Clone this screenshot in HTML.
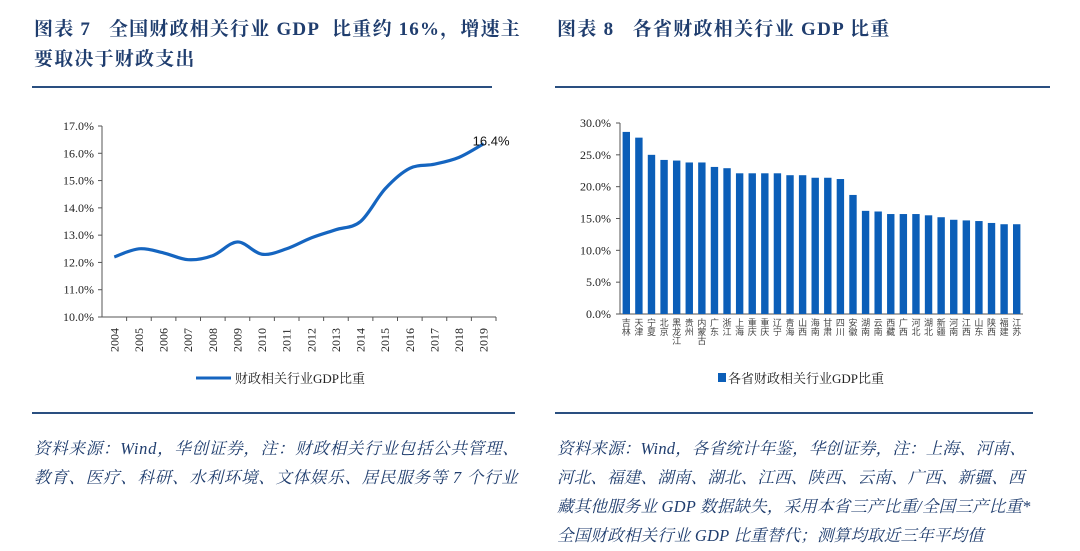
<!DOCTYPE html>
<html><head><meta charset="utf-8"><style>
body{margin:0;width:1080px;height:551px;background:#fff;overflow:hidden;position:relative;font-family:"Liberation Serif","Noto Serif CJK SC",serif}
.t{position:absolute;color:#1f3d6e;font-weight:bold;font-size:19px;letter-spacing:1px;white-space:nowrap}
.f{position:absolute;color:#1f3d6e;font-style:italic;font-size:16.5px;white-space:nowrap;letter-spacing:0.3px}
.hl{position:absolute;height:2px;background:#2a4f80}
svg{position:absolute;left:0;top:0}
</style></head><body>
<div class="t" style="left:34px;top:14px;letter-spacing:1.2px">图表 7&nbsp;&nbsp;&nbsp;全国财政相关行业 GDP&nbsp; 比重约 16%，增速主</div>
<div class="t" style="left:34px;top:44px;letter-spacing:1.2px">要取决于财政支出</div>
<div class="t" style="left:557px;top:14px;letter-spacing:1.3px">图表 8&nbsp;&nbsp;&nbsp;各省财政相关行业 GDP 比重</div>
<div class="hl" style="left:32px;top:86px;width:460px"></div>
<div class="hl" style="left:555px;top:86px;width:495px"></div>
<div class="hl" style="left:32px;top:412px;width:483px"></div>
<div class="hl" style="left:555px;top:412px;width:478px"></div>
<div class="f" style="left:34px;top:434px;line-height:29px;letter-spacing:0.75px">资料来源：Wind，华创证券，注：财政相关行业包括公共管理、<br>教育、医疗、科研、水利环境、文体娱乐、居民服务等 7 个行业</div>
<div class="f" style="left:557px;top:434px;line-height:29px;letter-spacing:0.2px">资料来源：Wind，各省统计年鉴，华创证券，注：上海、河南、<br>河北、福建、湖南、湖北、江西、陕西、云南、广西、新疆、西<br>藏其他服务业 GDP 数据缺失，采用本省三产比重/全国三产比重*<br>全国财政相关行业 GDP 比重替代；测算均取近三年平均值</div>
<svg id="c" width="1080" height="551"></svg>
<script>
const years=["2004","2005","2006","2007","2008","2009","2010","2011","2012","2013","2014","2015","2016","2017","2018","2019"];
const lineVals=[12.2,12.5,12.35,12.1,12.25,12.75,12.3,12.5,12.9,13.2,13.5,14.7,15.45,15.6,15.85,16.35];
const lineTicks=[10,11,12,13,14,15,16,17];
const provinces=["吉林","天津","宁夏","北京","黑龙江","贵州","内蒙古","广东","浙江","上海","重庆","重庆","辽宁","青海","山西","海南","甘肃","四川","安徽","湖南","云南","西藏","广西","河北","湖北","新疆","河南","江西","山东","陕西","福建","江苏"];
const barVals=[28.6,27.7,25.0,24.2,24.1,23.8,23.8,23.1,22.9,22.1,22.1,22.1,22.1,21.8,21.8,21.4,21.4,21.2,18.7,16.2,16.1,15.7,15.7,15.7,15.5,15.2,14.8,14.7,14.6,14.3,14.1,14.1];
const barTicks=[0,5,10,15,20,25,30];
const S=document.getElementById('c'),NS='http://www.w3.org/2000/svg';
function mk(t,a,txt){const e=document.createElementNS(NS,t);for(const k in a)e.setAttribute(k,a[k]);if(txt!=null)e.textContent=txt;S.appendChild(e);return e;}
const lx0=102,lx1=496,ly0=317,ly1=126;
const lxs=i=>lx0+12.3+i*((lx1-lx0)/years.length);
const lys=v=>ly0-(v-10)/7*(ly0-ly1);
let e=mk('line',{x1:lx0,y1:ly1,x2:lx0,y2:ly0,stroke:'#555'});

e=mk('line',{x1:lx0,y1:ly0,x2:lx1,y2:ly0,stroke:'#555'});

lineTicks.forEach(v=>{const y=lys(v);mk('line',{x1:lx0-4,y1:y,x2:lx0,y2:y,stroke:'#555'});
e=mk('text',{x:lx0-8,y:y+4,'text-anchor':'end','font-size':12,fill:'#222'},v.toFixed(1)+'%');
});
years.forEach((yr,i)=>{const x=lx0+(i+1)*((lx1-lx0)/years.length);mk('line',{x1:x,y1:ly0,x2:x,y2:ly0+4,stroke:'#555'});
e=mk('text',{transform:`translate(${lxs(i)+4},${ly0+35}) rotate(-90)`,'font-size':12,fill:'#222'},yr);
});
const pts=lineVals.map((v,i)=>[lxs(i),lys(v)]);
let d='M'+pts[0][0]+','+pts[0][1];
for(let i=0;i<pts.length-1;i++){const p0=pts[Math.max(0,i-1)],p1=pts[i],p2=pts[i+1],p3=pts[Math.min(pts.length-1,i+2)];
d+=` C${p1[0]+(p2[0]-p0[0])/6},${p1[1]+(p2[1]-p0[1])/6} ${p2[0]-(p3[0]-p1[0])/6},${p2[1]-(p3[1]-p1[1])/6} ${p2[0]},${p2[1]}`;}
e=mk('path',{d:d,fill:'none',stroke:'#1565c0','stroke-width':3.2});

e=mk('text',{x:pts[15][0]-11,y:pts[15][1]+2,'font-size':13,fill:'#111','font-family':'Liberation Sans,sans-serif'},lineVals[15].toFixed(1)+'%');

e=mk('line',{x1:196,y1:378,x2:231,y2:378,stroke:'#1565c0','stroke-width':3});

e=mk('text',{x:235,y:383,'font-size':13,fill:'#222'},'财政相关行业GDP比重');

const bx0=620,bx1=1023,by0=314,by1=123;
const step=(bx1-bx0)/provinces.length;
const bys=v=>by0-v/30*(by0-by1);
e=mk('line',{x1:bx0,y1:by1,x2:bx0,y2:by0,stroke:'#555'});

e=mk('line',{x1:bx0,y1:by0,x2:bx1,y2:by0,stroke:'#555'});

barTicks.forEach(v=>{const y=bys(v);mk('line',{x1:bx0-4,y1:y,x2:bx0,y2:y,stroke:'#555'});
e=mk('text',{x:bx0-9,y:y+4,'text-anchor':'end','font-size':12,fill:'#222'},v.toFixed(1)+'%');
});
provinces.forEach((p,i)=>{const cx=bx0+step*(i+0.5),y=bys(barVals[i]);
e=mk('rect',{x:cx-3.7,y:y,width:7.4,height:by0-y,fill:'#0b5eb8'});

e=mk('text',{x:cx,y:by0+4,'font-size':9,fill:'#444',style:'writing-mode:vertical-rl;text-orientation:upright','font-family':'Noto Sans CJK SC,sans-serif'},p);
});
e=mk('rect',{x:718,y:373,width:8,height:9,fill:'#0b5eb8'});

e=mk('text',{x:728,y:383,'font-size':13,fill:'#222'},'各省财政相关行业GDP比重');

</script>
</body></html>
